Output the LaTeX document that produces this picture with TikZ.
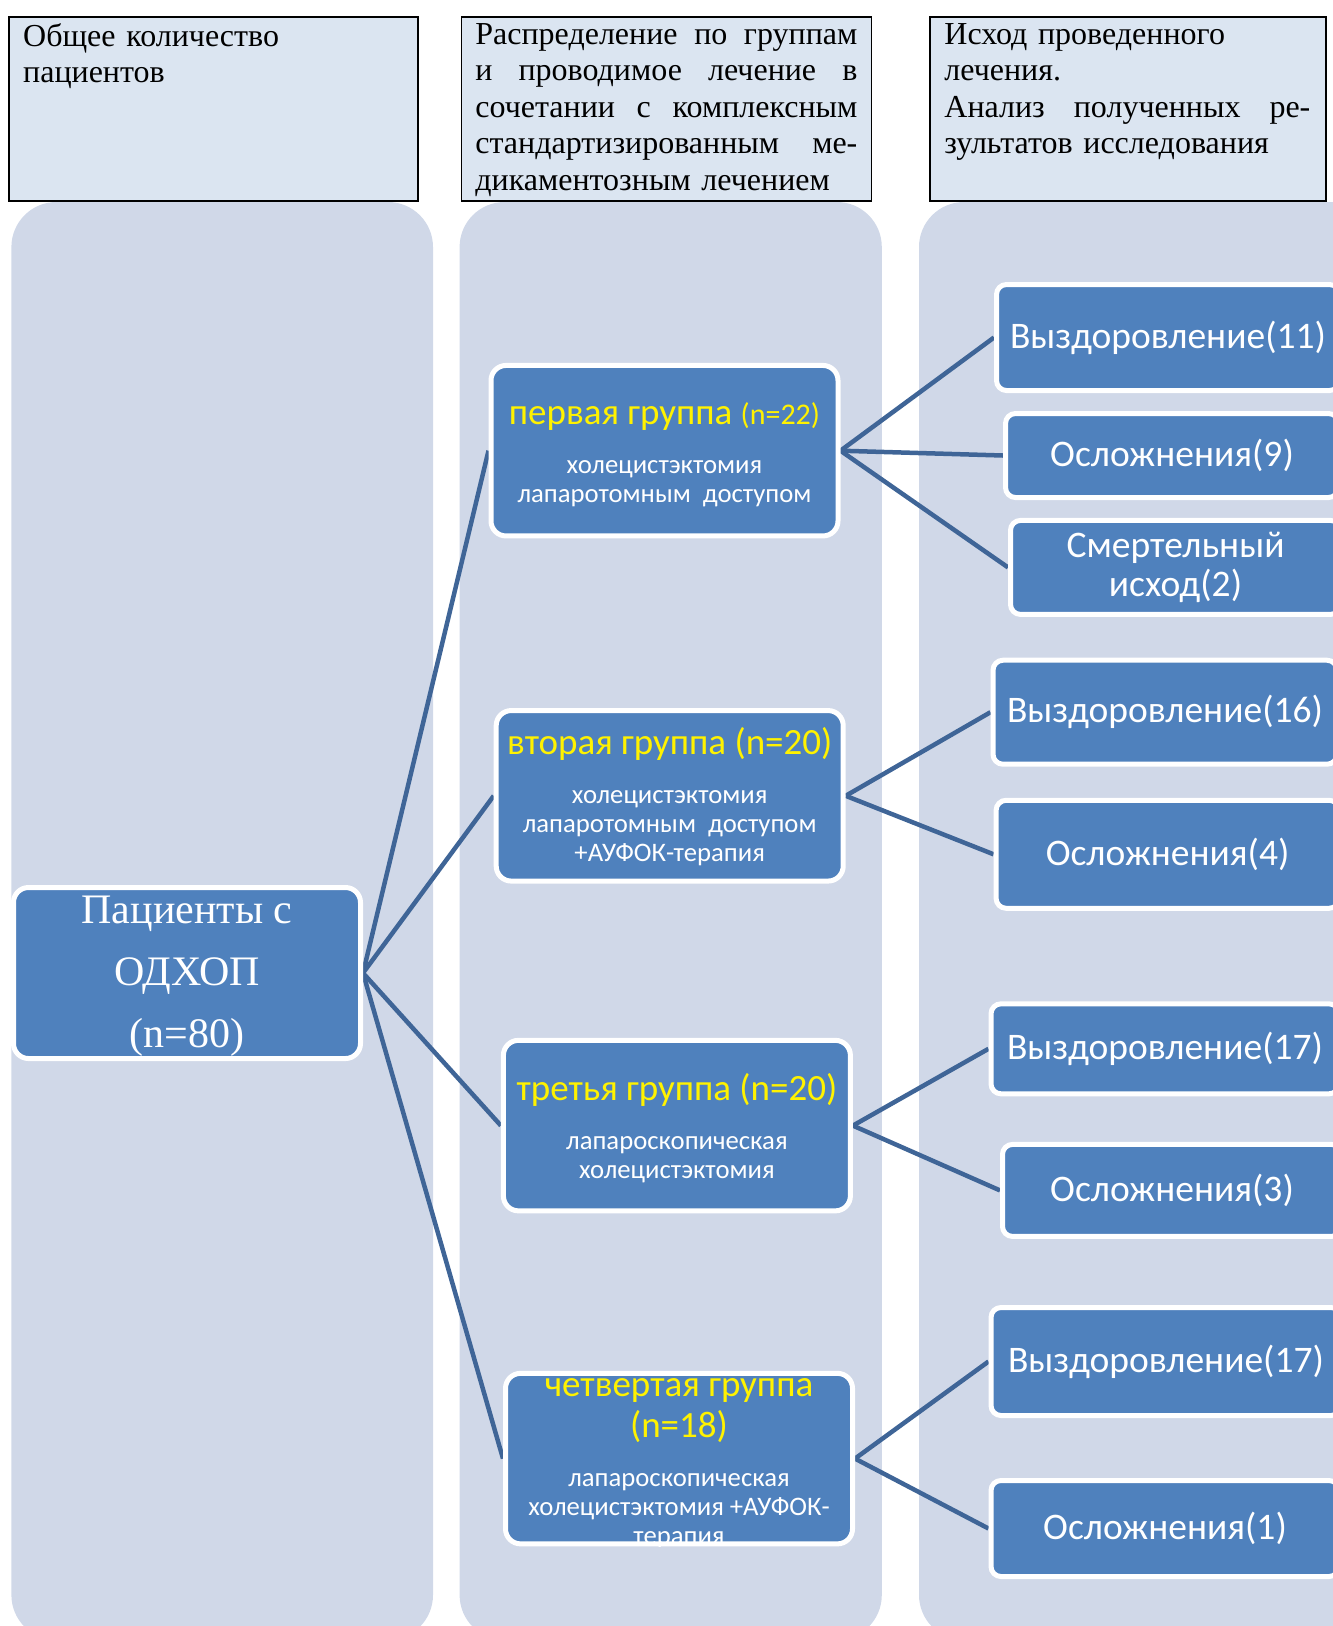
\documentclass[tikz,border=0pt]{standalone}
\usepackage{fontspec}
\setmainfont{Liberation Serif}
\newfontfamily\calibfont{Carlito}
\usetikzlibrary{backgrounds}
\definecolor{colbg}{HTML}{D0D8E8}
\definecolor{headbg}{HTML}{DBE5F1}
\definecolor{boxblue}{HTML}{4F81BD}
\definecolor{linkblue}{HTML}{3F6597}
\lineskiplimit=-16000pt
\newcommand\hdfont{\fontsize{32}{36.5}\selectfont}
\newcommand\grtitle[1]{{\fontsize{37}{41.4}\selectfont\color{yellow}#1}}
\tikzset{
  column/.style={fill=colbg, rounded corners=45pt},
  headbox/.style={draw=black, line width=1.5pt, fill=headbg, anchor=north west, inner sep=0pt},
  headtext/.style={anchor=north west, inner sep=0pt, font=\hdfont},
  bluebox/.style={draw=white, line width=5pt, fill=boxblue, text=white, align=center, inner sep=0pt},
  patbox/.style={bluebox, rounded corners=15pt, font=\fontsize{42}{62}\selectfont,
    minimum width=347pt, minimum height=171pt},
  groupbox/.style={bluebox, rounded corners=15pt, font=\calibfont\fontsize{26.7}{29}\selectfont,
    minimum width=347pt, minimum height=170.5pt},
  outbox/.style={bluebox, rounded corners=10pt, font=\calibfont\fontsize{37.5}{39.5}\selectfont},
  link/.style={draw=linkblue, line width=4.5pt}
}
\begin{document}
\begin{tikzpicture}[x=1pt,y=-1pt]
  \useasboundingbox (0,0) rectangle (1333,1626);
  \clip (0,0) rectangle (1333,1626);

  % headers
  \node[headbox, minimum width=409pt, minimum height=184pt] (h1) at (8,16.3) {};
  \node[headbox, minimum width=410pt, minimum height=184pt] (h2) at (460.7,16.3) {};
  \node[headbox, minimum width=396pt, minimum height=184pt] (h3) at (929.2,16.3) {};
  \node[headtext, text width=380pt] (h1t) at ([shift={(15,7)}]h1.north west)
    {Общее количество\\ пациентов};
  \node[headtext, text width=382pt] (h2t) at ([shift={(14.5,7)}]h2.north west)
    {Распределение \hfill по \hfill группам\\
     и \hfill проводимое \hfill лечение \hfill в\\
     сочетании \hfill с \hfill комплексным\\
     стандартизированным \hfill ме-\\
     дикаментозным лечением};
  \node[headtext, text width=366pt] (h3t) at ([shift={(15,7)}]h3.north west)
    {Исход проведенного\\ лечения.\\
     Анализ \hfill полученных \hfill ре-\\
     зультатов исследования};

  % patients and groups
  \node[patbox] (pat) at (187,973) {\rule{0pt}{34pt}Пациенты с\\ ОДХОП\\ (n=80)};
  \node[groupbox] (g1) at (664.5,450.7)
    {\rule{0pt}{30pt}\grtitle{первая группа {\fontsize{30}{30}\selectfont(n=22)}}\\[20pt]
     холецистэктомия\\ лапаротомным\ \ доступом};
  \node[groupbox] (g2) at (669.7,795.8)
    {\rule{0pt}{29.5pt}\grtitle{вторая группа (n=20)}\\[20pt]
     холецистэктомия\\ лапаротомным\ \ доступом\\ +АУФОК-терапия};
  \node[groupbox] (g3) at (676.9,1125.6)
    {\rule{0pt}{32pt}\grtitle{третья группа (n=20)}\\[20pt]
     лапароскопическая\\ холецистэктомия};
  \node[groupbox] (g4) at (679,1458.6) {};
  \begin{scope}
    \clip[rounded corners=15pt] (g4.south west) rectangle (g4.north east);
    \node[align=center, text=white, font=\calibfont\fontsize{26.7}{29}\selectfont] (g4t) at (g4.center)
      {\rule{0pt}{28pt}\grtitle{четвертая группа}\\[12.4pt] \grtitle{(n=18)}\\[20pt]
       лапароскопическая\\ холецистэктомия +АУФОК-\\ терапия};
  \end{scope}

  % outcomes
  \node[outbox, minimum width=343pt, minimum height=106pt] (o11) at (1168,337.5) {Выздоровление(11)};
  \node[outbox, minimum width=333pt, minimum height=84pt] (o12) at (1172,455.5) {Осложнения(9)};
  \node[outbox, minimum width=330pt, minimum height=94pt] (o13) at (1175.5,567.4) {Смертельный\\ исход(2)};
  \node[outbox, minimum width=344pt, minimum height=104pt] (o21) at (1165,712.2) {Выздоровление(16)};
  \node[outbox, minimum width=343pt, minimum height=108pt] (o22) at (1167.6,854.3) {Осложнения(4)};
  \node[outbox, minimum width=348pt, minimum height=90pt] (o31) at (1165,1048.8) {Выздоровление(17)};
  \node[outbox, minimum width=339pt, minimum height=92pt] (o32) at (1172,1190.4) {Осложнения(3)};
  \node[outbox, minimum width=350pt, minimum height=108pt] (o41) at (1166,1361.5) {Выздоровление(17)};
  \node[outbox, minimum width=348pt, minimum height=96pt] (o42) at (1165,1528.5) {Осложнения(1)};

  \begin{scope}[on background layer]
    \fill[column] (11.4,202) rectangle (433,1640);
    \fill[column] (459.6,202) rectangle (881.8,1640);
    \fill[column] (919,202) rectangle (1380,1640);
    \foreach \g in {g1,g2,g3,g4}
      \draw[link] (pat.east) -- (\g.west);
    \foreach \o in {o11,o12,o13}
      \draw[link] (g1.east) -- (\o.west);
    \foreach \o in {o21,o22}
      \draw[link] (g2.east) -- (\o.west);
    \foreach \o in {o31,o32}
      \draw[link] (g3.east) -- (\o.west);
    \foreach \o in {o41,o42}
      \draw[link] (g4.east) -- (\o.west);
  \end{scope}
\end{tikzpicture}
\end{document}
